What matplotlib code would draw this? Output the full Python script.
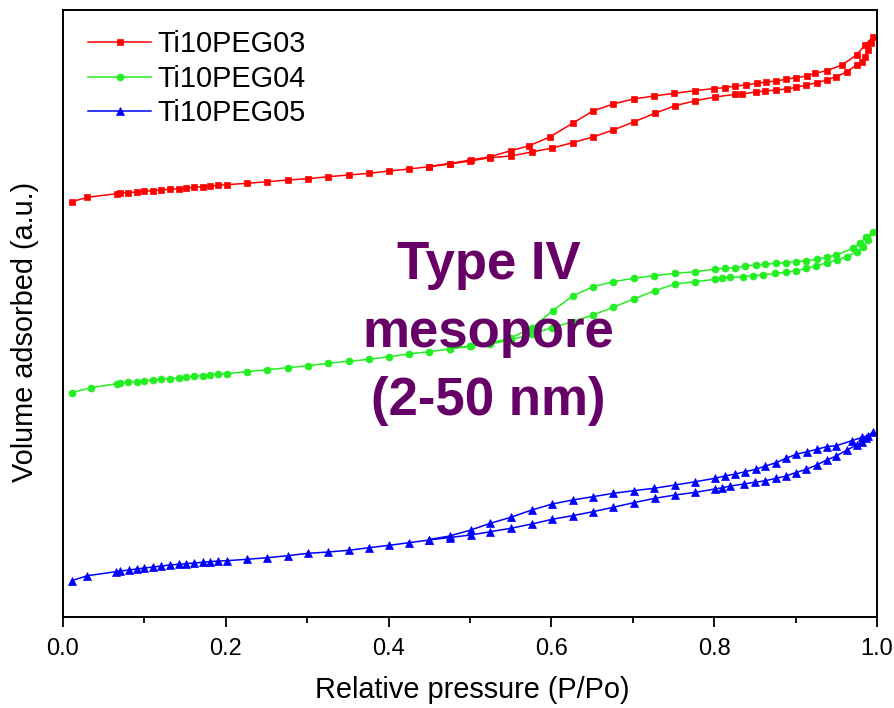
import matplotlib
matplotlib.use("Agg")
import matplotlib.pyplot as plt
from matplotlib.ticker import MultipleLocator, NullLocator

plt.rcParams['font.family'] = ['Liberation Sans', 'DejaVu Sans']

# ---------------- data (relative pressure, volume in arbitrary units) ----------------
p03_ads = [0.0107, 0.030, 0.066, 0.070, 0.080, 0.0905, 0.100, 0.111, 0.121, 0.131, 0.142,
           0.151, 0.161, 0.172, 0.181, 0.191, 0.201, 0.226, 0.251, 0.276, 0.301, 0.326,
           0.351, 0.376, 0.401, 0.425, 0.450, 0.475, 0.500, 0.525, 0.550, 0.576, 0.601,
           0.626, 0.651, 0.676, 0.701, 0.727, 0.752, 0.777, 0.801, 0.826, 0.834, 0.851,
           0.863, 0.876, 0.889, 0.901, 0.913, 0.926, 0.938, 0.950, 0.963, 0.975, 0.981,
           0.985, 0.989, 0.993, 0.9955]
v03_ads = [415.3, 419.7, 423.3, 423.7, 424.3, 425.0, 425.7, 426.3, 427.0, 427.7, 428.3,
           429.0, 429.7, 430.3, 431.0, 431.7, 432.3, 433.7, 435.3, 437.0, 438.3, 440.3,
           442.0, 443.7, 446.0, 448.0, 450.3, 453.0, 456.0, 459.3, 461.0, 465.0, 469.0,
           474.3, 480.0, 487.0, 495.0, 503.7, 511.3, 516.3, 520.0, 522.7, 523.0, 525.0,
           526.0, 527.0, 528.0, 529.7, 532.0, 534.3, 537.0, 540.3, 545.3, 552.0, 555.3,
           560.3, 567.0, 573.7, 580.3]
p03_des = [0.985, 0.975, 0.957, 0.938, 0.924, 0.914, 0.900, 0.888, 0.876, 0.864, 0.852,
           0.839, 0.826, 0.813, 0.800, 0.776, 0.751, 0.726, 0.701, 0.676, 0.651, 0.626,
           0.598, 0.572, 0.550, 0.525, 0.501, 0.475, 0.450]
v03_des = [572.0, 562.0, 552.0, 546.3, 543.7, 541.0, 539.3, 537.7, 536.0, 535.0, 533.7,
           532.0, 531.0, 529.3, 528.5, 526.3, 523.7, 521.0, 518.0, 513.0, 506.0, 493.7,
           480.0, 471.0, 466.3, 460.3, 457.0, 453.5, 450.5]

p04_ads = [0.0107, 0.034, 0.066, 0.070, 0.080, 0.0905, 0.100, 0.111, 0.121, 0.131, 0.142,
           0.151, 0.161, 0.172, 0.181, 0.191, 0.201, 0.226, 0.251, 0.276, 0.301, 0.326,
           0.351, 0.376, 0.401, 0.425, 0.450, 0.475, 0.500, 0.525, 0.550, 0.576, 0.601,
           0.626, 0.651, 0.676, 0.701, 0.727, 0.752, 0.777, 0.801, 0.809, 0.820, 0.835,
           0.848, 0.860, 0.875, 0.888, 0.901, 0.913, 0.925, 0.938, 0.951, 0.963, 0.975,
           0.983, 0.989, 0.9955]
v04_ads = [224.3, 229.3, 233.3, 233.7, 234.7, 235.3, 236.3, 237.0, 237.7, 238.3, 239.0,
           240.0, 240.7, 241.3, 242.0, 242.7, 243.3, 245.3, 247.3, 249.3, 251.3, 253.7,
           255.7, 257.7, 260.3, 263.0, 265.3, 268.0, 271.0, 273.0, 277.0, 283.0, 289.3,
           295.3, 302.0, 309.7, 318.0, 326.3, 333.0, 335.3, 337.7, 338.7, 339.7, 340.3,
           341.3, 342.0, 343.7, 344.7, 346.3, 348.7, 351.0, 354.3, 357.0, 360.3, 365.3,
           370.3, 377.0, 385.3]
p04_des = [0.987, 0.979, 0.971, 0.950, 0.938, 0.926, 0.913, 0.901, 0.888, 0.876, 0.863,
           0.851, 0.838, 0.826, 0.813, 0.801, 0.777, 0.752, 0.726, 0.701, 0.676, 0.651,
           0.626, 0.602, 0.576, 0.550, 0.525, 0.501, 0.475]
v04_des = [380.3, 373.7, 368.7, 362.0, 359.7, 357.7, 356.3, 355.3, 354.3, 353.7, 352.7,
           352.0, 351.0, 349.3, 348.7, 347.7, 345.3, 343.7, 341.3, 338.7, 335.3, 330.3,
           321.0, 306.5, 289.0, 279.0, 274.0, 271.0, 268.5]

p05_ads = [0.0107, 0.030, 0.065, 0.070, 0.081, 0.0905, 0.100, 0.111, 0.121, 0.131, 0.142,
           0.151, 0.161, 0.172, 0.181, 0.191, 0.201, 0.226, 0.251, 0.276, 0.301, 0.326,
           0.351, 0.376, 0.401, 0.425, 0.450, 0.475, 0.501, 0.525, 0.550, 0.576, 0.601,
           0.626, 0.651, 0.676, 0.701, 0.727, 0.752, 0.777, 0.801, 0.810, 0.820, 0.836,
           0.850, 0.863, 0.876, 0.888, 0.900, 0.913, 0.926, 0.938, 0.950, 0.963, 0.975,
           0.981, 0.987, 0.9955]
v05_ads = [36.3, 41.3, 45.3, 46.0, 47.0, 48.0, 49.0, 50.0, 51.0, 52.0, 52.7,
           53.3, 54.0, 54.7, 55.3, 56.0, 56.3, 57.7, 59.3, 61.3, 63.7, 65.0,
           66.7, 69.3, 71.7, 74.3, 77.0, 79.5, 82.0, 85.3, 88.7, 93.0, 97.7,
           101.3, 105.3, 109.7, 114.3, 118.7, 122.0, 124.7, 128.0, 129.3, 131.0, 133.0,
           134.7, 136.3, 138.7, 141.0, 144.3, 147.7, 152.0, 157.0, 161.0, 167.0, 172.0,
           175.3, 178.7, 185.3]
p05_des = [0.989, 0.982, 0.969, 0.950, 0.938, 0.926, 0.914, 0.901, 0.888, 0.876, 0.863,
           0.851, 0.838, 0.826, 0.813, 0.801, 0.777, 0.752, 0.726, 0.701, 0.676, 0.651,
           0.626, 0.601, 0.576, 0.550, 0.525, 0.501, 0.475, 0.450]
v05_des = [181.0, 179.7, 176.3, 171.3, 170.3, 167.7, 165.3, 162.7, 158.7, 154.3, 151.0,
           147.7, 145.3, 143.0, 141.0, 138.7, 135.3, 132.0, 128.7, 126.3, 123.7, 120.3,
           117.0, 113.0, 107.0, 99.7, 93.7, 87.0, 81.0, 77.5]

labels = ["Ti10PEG03", "Ti10PEG04", "Ti10PEG05"]
x_ticks = [0.0, 0.2, 0.4, 0.6, 0.8, 1.0]
x_tick_labels = ["0.0", "0.2", "0.4", "0.6", "0.8", "1.0"]
annotation = "Type IV\nmesopore\n(2-50 nm)"

# ---------------- figure ----------------
fig = plt.figure(figsize=(8.95, 7.08), dpi=100)
ax = fig.add_axes([63 / 895, 1 - 617 / 708, 814 / 895, 607 / 708])

series = [
    (p03_ads + p03_des, v03_ads + v03_des, "#ff0000", "s", 5.0),
    (p04_ads + p04_des, v04_ads + v04_des, "#22ee22", "o", 5.0),
    (p05_ads + p05_des, v05_ads + v05_des, "#0000ff", "^", 5.5),
]
for (xs, ys, col, mk, ms), lab in zip(series, labels):
    ax.plot(xs, ys, color=col, marker=mk, markersize=ms, linewidth=1.1,
            markeredgewidth=0.5, label=lab)

ax.set_xlim(0.0, 1.0)
ax.set_ylim(0, 607)
ax.set_xticks(x_ticks)
ax.set_xticklabels(x_tick_labels)
ax.xaxis.set_minor_locator(MultipleLocator(0.1))
ax.yaxis.set_major_locator(NullLocator())
ax.tick_params(axis='x', which='major', direction='out', length=7, width=1.3,
               labelsize=17, pad=8)
ax.tick_params(axis='x', which='minor', direction='out', length=4, width=1.3)
for s in ax.spines.values():
    s.set_linewidth(1.4)

fig.text(472 / 895, 1 - 690 / 708, "Relative pressure (P/Po)", fontsize=20.8,
         ha='center', va='center')
fig.text(25 / 895, 1 - 332 / 708, "Volume adsorbed (a.u.)", fontsize=20.8,
         ha='center', va='center', rotation=90)

ax.text(0.523, 0.468, annotation, transform=ax.transAxes, ha='center', va='center',
        fontsize=38, fontweight='bold', color='#660066', linespacing=1.47)

leg = ax.legend(loc='upper left', frameon=False, fontsize=20.8, handlelength=2.15,
                handletextpad=0.25, labelspacing=0.22, borderaxespad=0.2,
                bbox_to_anchor=(0.01, 0.995))

fig.savefig("out.png", dpi=100)
